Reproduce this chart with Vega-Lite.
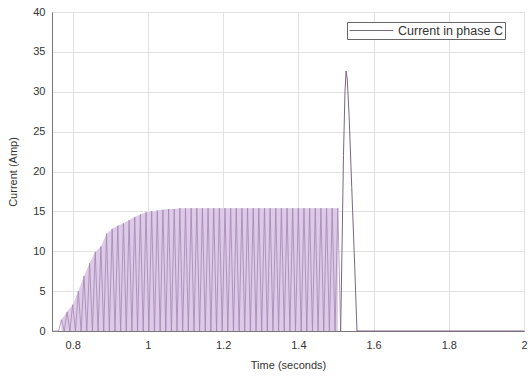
{
  "$schema": "https://vega.github.io/schema/vega-lite/v6.json",
  "width": 472,
  "height": 319,
  "autosize": "none",
  "padding": {"left": 52, "top": 12, "right": 4, "bottom": 45},
  "background": "white",
  "config": {
    "view": {"stroke": "#8a8a8a", "strokeWidth": 1},
    "font": "Liberation Sans",
    "axis": {
      "labelFont": "Liberation Sans", "labelFontSize": 11, "labelColor": "#333",
      "titleFont": "Liberation Sans", "titleFontSize": 11, "titleColor": "#333", "titleFontWeight": "normal",
      "gridColor": "#e2e2e2", "domainColor": "#777", "ticks": false
    }
  },
  "data": {"values": [
    {"t": 0.745, "i": 0, "p": "osc"},
    {"t": 0.7625, "i": 0, "p": "osc"}, {"t": 0.770, "i": 1.4, "p": "osc"},
    {"t": 0.7775, "i": 0, "p": "osc"}, {"t": 0.785, "i": 2.4, "p": "osc"},
    {"t": 0.7925, "i": 0, "p": "osc"}, {"t": 0.800, "i": 3.3, "p": "osc"},
    {"t": 0.8075, "i": 0, "p": "osc"}, {"t": 0.815, "i": 5.0, "p": "osc"},
    {"t": 0.8225, "i": 0, "p": "osc"}, {"t": 0.830, "i": 6.9, "p": "osc"},
    {"t": 0.8375, "i": 0, "p": "osc"}, {"t": 0.845, "i": 8.5, "p": "osc"},
    {"t": 0.8525, "i": 0, "p": "osc"}, {"t": 0.860, "i": 9.9, "p": "osc"},
    {"t": 0.8675, "i": 0, "p": "osc"}, {"t": 0.875, "i": 10.6, "p": "osc"},
    {"t": 0.8825, "i": 0, "p": "osc"}, {"t": 0.890, "i": 12.2, "p": "osc"},
    {"t": 0.8975, "i": 0, "p": "osc"}, {"t": 0.905, "i": 12.8, "p": "osc"},
    {"t": 0.9125, "i": 0, "p": "osc"}, {"t": 0.920, "i": 13.2, "p": "osc"},
    {"t": 0.9275, "i": 0, "p": "osc"}, {"t": 0.935, "i": 13.5, "p": "osc"},
    {"t": 0.9425, "i": 0, "p": "osc"}, {"t": 0.950, "i": 13.9, "p": "osc"},
    {"t": 0.9575, "i": 0, "p": "osc"}, {"t": 0.965, "i": 14.3, "p": "osc"},
    {"t": 0.9725, "i": 0, "p": "osc"}, {"t": 0.980, "i": 14.6, "p": "osc"},
    {"t": 0.9875, "i": 0, "p": "osc"}, {"t": 0.995, "i": 14.9, "p": "osc"},
    {"t": 1.0025, "i": 0, "p": "osc"}, {"t": 1.010, "i": 15.0, "p": "osc"},
    {"t": 1.0175, "i": 0, "p": "osc"}, {"t": 1.025, "i": 15.1, "p": "osc"},
    {"t": 1.0325, "i": 0, "p": "osc"}, {"t": 1.040, "i": 15.2, "p": "osc"},
    {"t": 1.0475, "i": 0, "p": "osc"}, {"t": 1.055, "i": 15.3, "p": "osc"},
    {"t": 1.0625, "i": 0, "p": "osc"}, {"t": 1.070, "i": 15.3, "p": "osc"},
    {"t": 1.0775, "i": 0, "p": "osc"}, {"t": 1.085, "i": 15.4, "p": "osc"},
    {"t": 1.0925, "i": 0, "p": "osc"}, {"t": 1.100, "i": 15.4, "p": "osc"},
    {"t": 1.1075, "i": 0, "p": "osc"}, {"t": 1.115, "i": 15.4, "p": "osc"},
    {"t": 1.1225, "i": 0, "p": "osc"}, {"t": 1.130, "i": 15.4, "p": "osc"},
    {"t": 1.1375, "i": 0, "p": "osc"}, {"t": 1.145, "i": 15.4, "p": "osc"},
    {"t": 1.1525, "i": 0, "p": "osc"}, {"t": 1.160, "i": 15.4, "p": "osc"},
    {"t": 1.1675, "i": 0, "p": "osc"}, {"t": 1.175, "i": 15.4, "p": "osc"},
    {"t": 1.1825, "i": 0, "p": "osc"}, {"t": 1.190, "i": 15.4, "p": "osc"},
    {"t": 1.1975, "i": 0, "p": "osc"}, {"t": 1.205, "i": 15.4, "p": "osc"},
    {"t": 1.2125, "i": 0, "p": "osc"}, {"t": 1.220, "i": 15.4, "p": "osc"},
    {"t": 1.2275, "i": 0, "p": "osc"}, {"t": 1.235, "i": 15.4, "p": "osc"},
    {"t": 1.2425, "i": 0, "p": "osc"}, {"t": 1.250, "i": 15.4, "p": "osc"},
    {"t": 1.2575, "i": 0, "p": "osc"}, {"t": 1.265, "i": 15.4, "p": "osc"},
    {"t": 1.2725, "i": 0, "p": "osc"}, {"t": 1.280, "i": 15.4, "p": "osc"},
    {"t": 1.2875, "i": 0, "p": "osc"}, {"t": 1.295, "i": 15.4, "p": "osc"},
    {"t": 1.3025, "i": 0, "p": "osc"}, {"t": 1.310, "i": 15.4, "p": "osc"},
    {"t": 1.3175, "i": 0, "p": "osc"}, {"t": 1.325, "i": 15.4, "p": "osc"},
    {"t": 1.3325, "i": 0, "p": "osc"}, {"t": 1.340, "i": 15.4, "p": "osc"},
    {"t": 1.3475, "i": 0, "p": "osc"}, {"t": 1.355, "i": 15.4, "p": "osc"},
    {"t": 1.3625, "i": 0, "p": "osc"}, {"t": 1.370, "i": 15.4, "p": "osc"},
    {"t": 1.3775, "i": 0, "p": "osc"}, {"t": 1.385, "i": 15.4, "p": "osc"},
    {"t": 1.3925, "i": 0, "p": "osc"}, {"t": 1.400, "i": 15.4, "p": "osc"},
    {"t": 1.4075, "i": 0, "p": "osc"}, {"t": 1.415, "i": 15.4, "p": "osc"},
    {"t": 1.4225, "i": 0, "p": "osc"}, {"t": 1.430, "i": 15.4, "p": "osc"},
    {"t": 1.4375, "i": 0, "p": "osc"}, {"t": 1.445, "i": 15.4, "p": "osc"},
    {"t": 1.4525, "i": 0, "p": "osc"}, {"t": 1.460, "i": 15.4, "p": "osc"},
    {"t": 1.4675, "i": 0, "p": "osc"}, {"t": 1.475, "i": 15.4, "p": "osc"},
    {"t": 1.4825, "i": 0, "p": "osc"}, {"t": 1.490, "i": 15.4, "p": "osc"},
    {"t": 1.4975, "i": 0, "p": "osc"}, {"t": 1.505, "i": 15.4, "p": "osc"},
    {"t": 1.5125, "i": 0, "p": "osc"},
    {"t": 1.5125, "i": 0, "p": "spike"},
    {"t": 1.516, "i": 10, "p": "spike"},
    {"t": 1.520, "i": 22, "p": "spike"},
    {"t": 1.524, "i": 30, "p": "spike"},
    {"t": 1.527, "i": 32.6, "p": "spike"},
    {"t": 1.530, "i": 31.6, "p": "spike"},
    {"t": 1.535, "i": 27, "p": "spike"},
    {"t": 1.542, "i": 18, "p": "spike"},
    {"t": 1.550, "i": 8, "p": "spike"},
    {"t": 1.556, "i": 0, "p": "spike"},
    {"t": 2.0, "i": 0, "p": "spike"}
  ]},
  "encoding": {
    "x": {"field": "t", "type": "quantitative",
      "scale": {"domain": [0.745, 2.0], "nice": false, "zero": false},
      "axis": {"title": "Time (seconds)", "values": [0.8, 1, 1.2, 1.4, 1.6, 1.8, 2], "format": "~g", "labelPadding": 8, "titlePadding": 9, "labelFlush": false}},
    "y": {"field": "i", "type": "quantitative",
      "scale": {"domain": [0, 40], "nice": false},
      "axis": {"title": "Current (Amp)", "values": [0, 5, 10, 15, 20, 25, 30, 35, 40], "labelPadding": 7, "titlePadding": 14}}
  },
  "layer": [
    {
      "transform": [{"filter": "datum.p == 'osc' && datum.i > 0"}],
      "mark": {"type": "area", "color": "#dccae7", "interpolate": "linear"}
    },
    {
      "transform": [{"filter": "datum.p == 'osc'"}],
      "mark": {"type": "line", "strokeWidth": 0.8, "color": "#a485b3", "interpolate": "linear"}
    },
    {
      "transform": [{"filter": "datum.p == 'spike'"}],
      "mark": {"type": "line", "strokeWidth": 1, "interpolate": "linear"},
      "encoding": {
        "color": {"datum": "Current in phase C", "type": "nominal",
          "scale": {"range": ["#7a6782"]},
          "legend": {"title": null, "orient": "none", "legendX": 295, "legendY": 10,
            "symbolType": "M-1,0H6.3", "symbolSize": 144, "symbolStrokeWidth": 1,
            "labelFont": "Liberation Sans", "labelFontSize": 12.5, "labelColor": "#333",
            "strokeColor": "#666", "fillColor": "white", "padding": 2, "labelOffset": 36, "cornerRadius": 0}}
      }
    }
  ]
}
